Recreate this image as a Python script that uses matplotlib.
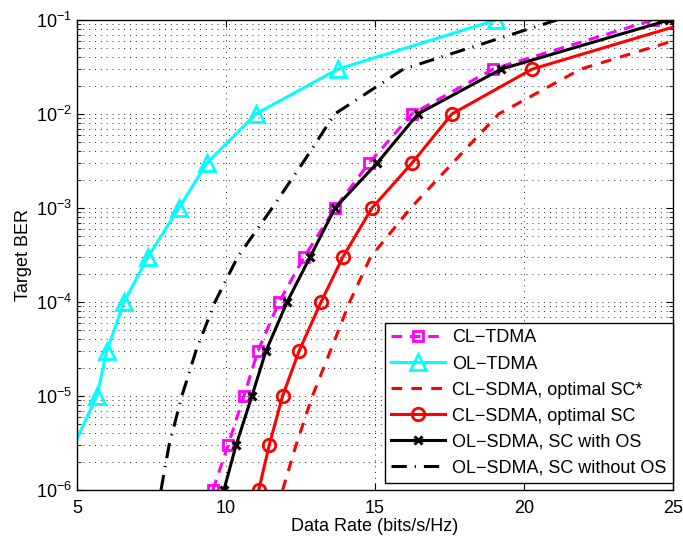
import matplotlib
matplotlib.use("Agg")
import matplotlib.pyplot as plt
from matplotlib.ticker import LogLocator, FixedLocator, NullFormatter, NullLocator

plt.rcParams['font.family'] = ['Liberation Sans', 'DejaVu Sans']
plt.rcParams['mathtext.fontset'] = 'custom'
plt.rcParams['mathtext.rm'] = 'Liberation Sans'
plt.rcParams['mathtext.it'] = 'Liberation Sans:italic'
plt.rcParams['font.size'] = 13

# BER levels shared by the curves
ber = [1e-6, 3e-6, 1e-5, 3e-5, 1e-4, 3e-4, 1e-3, 3e-3, 1e-2, 3e-2, 1e-1]

cl_tdma_rate = [9.56, 10.07, 10.6, 11.07, 11.78, 12.62, 13.66, 14.8, 16.24, 18.96, 24.33]

ol_tdma_ber = [1e-6, 1e-5, 3e-5, 1e-4, 3e-4, 1e-3, 3e-3, 1e-2, 3e-2, 1e-1]
ol_tdma_rate = [4.2, 5.67, 6.0, 6.58, 7.38, 8.42, 9.36, 11.0, 13.76, 19.06]

cl_sdma_star_rate = [11.9, 12.35, 12.9, 13.5, 14.15, 14.85, 16.2, 17.6, 19.15, 21.9, 27.3]
cl_sdma_rate = [11.1, 11.45, 11.9, 12.45, 13.19, 13.92, 14.9, 16.24, 17.58, 20.27, 25.8]
ol_sdma_os_rate = [9.93, 10.34, 10.87, 11.34, 12.05, 12.82, 13.66, 15.07, 16.44, 19.23, 24.87]
ol_sdma_noos_rate = [7.82, 8.09, 8.52, 8.99, 9.63, 10.39, 11.55, 12.57, 13.65, 15.95, 21.1]

labels = ["CL\u2212TDMA", "OL\u2212TDMA", "CL\u2212SDMA, optimal SC*",
          "CL\u2212SDMA, optimal SC", "OL\u2212SDMA, SC with OS",
          "OL\u2212SDMA, SC without OS"]

xticks = [5, 10, 15, 20, 25]
yticks = [1e-6, 1e-5, 1e-4, 1e-3, 1e-2, 1e-1]
ytick_labels = ["$10^{-6}$", "$10^{-5}$", "$10^{-4}$", "$10^{-3}$", "$10^{-2}$", "$10^{-1}$"]

fig = plt.figure(figsize=(6.83, 5.40), dpi=100)
ax = fig.add_axes([0.1127, 0.0926, 0.8727, 0.8704])

lw = 2.2
ax.plot(cl_tdma_rate, ber, color='#ff00ff', lw=lw, dashes=(3.5, 2.5),
        marker='s', ms=7, mfc='none', mec='#ff00ff', mew=2, label=labels[0])
ax.plot(ol_tdma_rate, ol_tdma_ber, color='#00ffff', lw=lw,
        marker='^', ms=11, mfc='none', mec='#00ffff', mew=2, label=labels[1])
ax.plot(cl_sdma_star_rate, ber, color='#ff0000', lw=lw, dashes=(3.5, 3.0),
        label=labels[2])
ax.plot(cl_sdma_rate, ber, color='#ff0000', lw=lw,
        marker='o', ms=9, mfc='none', mec='#ff0000', mew=2, label=labels[3])
ax.plot(ol_sdma_os_rate, ber, color='black', lw=lw,
        marker='x', ms=6, mew=2.2, label=labels[4])
ax.plot(ol_sdma_noos_rate, ber, color='black', lw=lw,
        dashes=(5, 2.6, 0.4, 2.6), label=labels[5])

ax.set_yscale('log')
ax.set_xlim(5, 25)
ax.set_ylim(1e-6, 1e-1)
ax.xaxis.set_major_locator(FixedLocator(xticks))
ax.xaxis.set_minor_locator(NullLocator())
ax.set_xticklabels([str(t) for t in xticks])
ax.yaxis.set_major_locator(FixedLocator(yticks))
ax.set_yticklabels(ytick_labels)
ax.yaxis.set_minor_locator(LogLocator(base=10, subs=[2, 3, 4, 5, 6, 7, 8, 9], numticks=20))
ax.yaxis.set_minor_formatter(NullFormatter())

ax.tick_params(which='both', direction='in', top=True, right=True, labelsize=13)
ax.tick_params(which='major', length=5, width=0.8)
ax.tick_params(which='minor', length=3, width=0.6)
ax.tick_params(axis='x', pad=7)

grid_style = dict(color='black', linestyle=(0, (1, 5)), linewidth=0.7, alpha=0.85)
ax.grid(True, which='major', axis='both', **grid_style)
ax.grid(True, which='minor', axis='y', **grid_style)
ax.set_axisbelow(True)
for s in ax.spines.values():
    s.set_linewidth(1.0)

ax.set_xlabel("Data Rate (bits/s/Hz)", fontsize=13, labelpad=1)
ax.set_ylabel("Target BER", fontsize=13, labelpad=3)

leg = ax.legend(loc='lower right', bbox_to_anchor=(1.0, 0.015), borderaxespad=0,
                fancybox=False, edgecolor='black', framealpha=1, fontsize=13,
                handlelength=3.0, labelspacing=0.5, borderpad=0.35,
                handletextpad=0.4, numpoints=1)
leg.get_frame().set_linewidth(1.0)

fig.savefig("out.png", dpi=100)
